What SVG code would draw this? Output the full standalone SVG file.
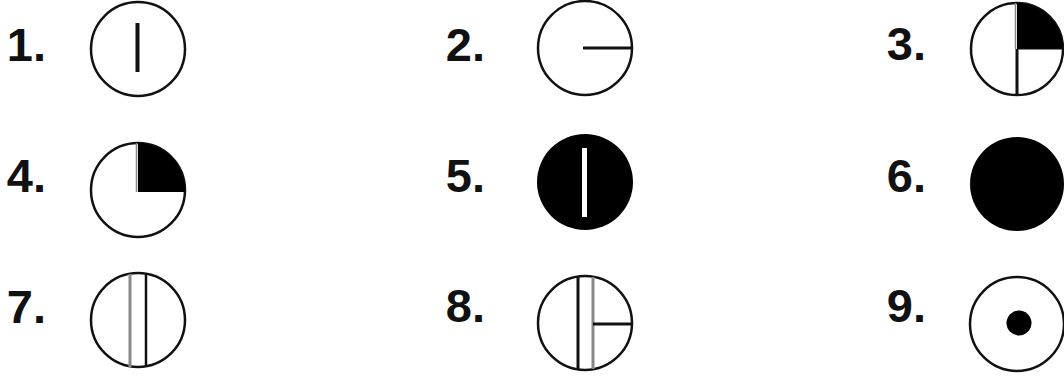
<svg xmlns="http://www.w3.org/2000/svg" width="1064" height="377" viewBox="0 0 1064 377">
<style>
.lbl{font-family:"Liberation Sans",Arial,sans-serif;font-weight:bold;font-size:47px;fill:#111;text-anchor:end}
.c{fill:#fff;stroke:#111;stroke-width:2.5}
.f{fill:#000}
.ln{stroke:#111;stroke-width:3;fill:none}
.lg{stroke:#888;stroke-width:3;fill:none}
</style>
<rect width="1064" height="377" fill="#fff"/>
<g id="n1">
<text class="lbl" x="46" y="61">1.</text>
<circle class="c" cx="138" cy="49" r="47"/>
<line class="ln" x1="137.5" y1="23" x2="137.5" y2="72" style="stroke-width:4"/>
</g>
<g id="n2">
<text class="lbl" x="485" y="61">2.</text>
<circle class="c" cx="585" cy="48" r="47"/>
<line class="ln" x1="583" y1="48" x2="632" y2="48"/>
</g>
<g id="n3">
<text class="lbl" x="926" y="60">3.</text>
<circle class="c" cx="1017" cy="49" r="46"/>
<path class="f" d="M1017,49 L1017,3 A46,46 0 0 1 1063,49 Z"/>
<line class="lg" x1="1015.5" y1="3" x2="1015.5" y2="49" style="stroke-width:1.5"/>
<line class="ln" x1="1017" y1="49" x2="1017" y2="95"/>
<line x1="1018" y1="49" x2="1062" y2="49" stroke="#111" stroke-width="1"/>
</g>
<g id="n4">
<text class="lbl" x="46" y="192">4.</text>
<circle class="c" cx="138" cy="190" r="47"/>
<path class="f" d="M138,192 L138,143 A47,47 0 0 1 185,190 L185,192 Z"/>
<line class="lg" x1="136.5" y1="143" x2="136.5" y2="192" style="stroke-width:1.5"/>
</g>
<g id="n5">
<text class="lbl" x="485" y="192">5.</text>
<circle cx="585" cy="182" r="48" fill="#000"/>
<rect x="582" y="148" width="5" height="69" fill="#fff"/>
</g>
<g id="n6">
<text class="lbl" x="926" y="192">6.</text>
<circle cx="1017" cy="184" r="47" fill="#000"/>
</g>
<g id="n7">
<text class="lbl" x="46" y="323">7.</text>
<circle class="c" cx="138" cy="320" r="47"/>
<line class="lg" x1="130" y1="274" x2="130" y2="367"/>
<line class="ln" x1="146" y1="274" x2="146" y2="367" style="stroke-width:2.5"/>
</g>
<g id="n8">
<text class="lbl" x="485" y="322">8.</text>
<circle class="c" cx="585" cy="323" r="47"/>
<line class="ln" x1="578" y1="277" x2="578" y2="369"/>
<line class="lg" x1="593" y1="277" x2="593" y2="369"/>
<line class="ln" x1="593" y1="324" x2="632" y2="324"/>
</g>
<g id="n9">
<text class="lbl" x="926" y="322">9.</text>
<circle class="c" cx="1017" cy="324" r="47"/>
<circle cx="1019" cy="323" r="12.5" fill="#000"/>
</g>
</svg>
